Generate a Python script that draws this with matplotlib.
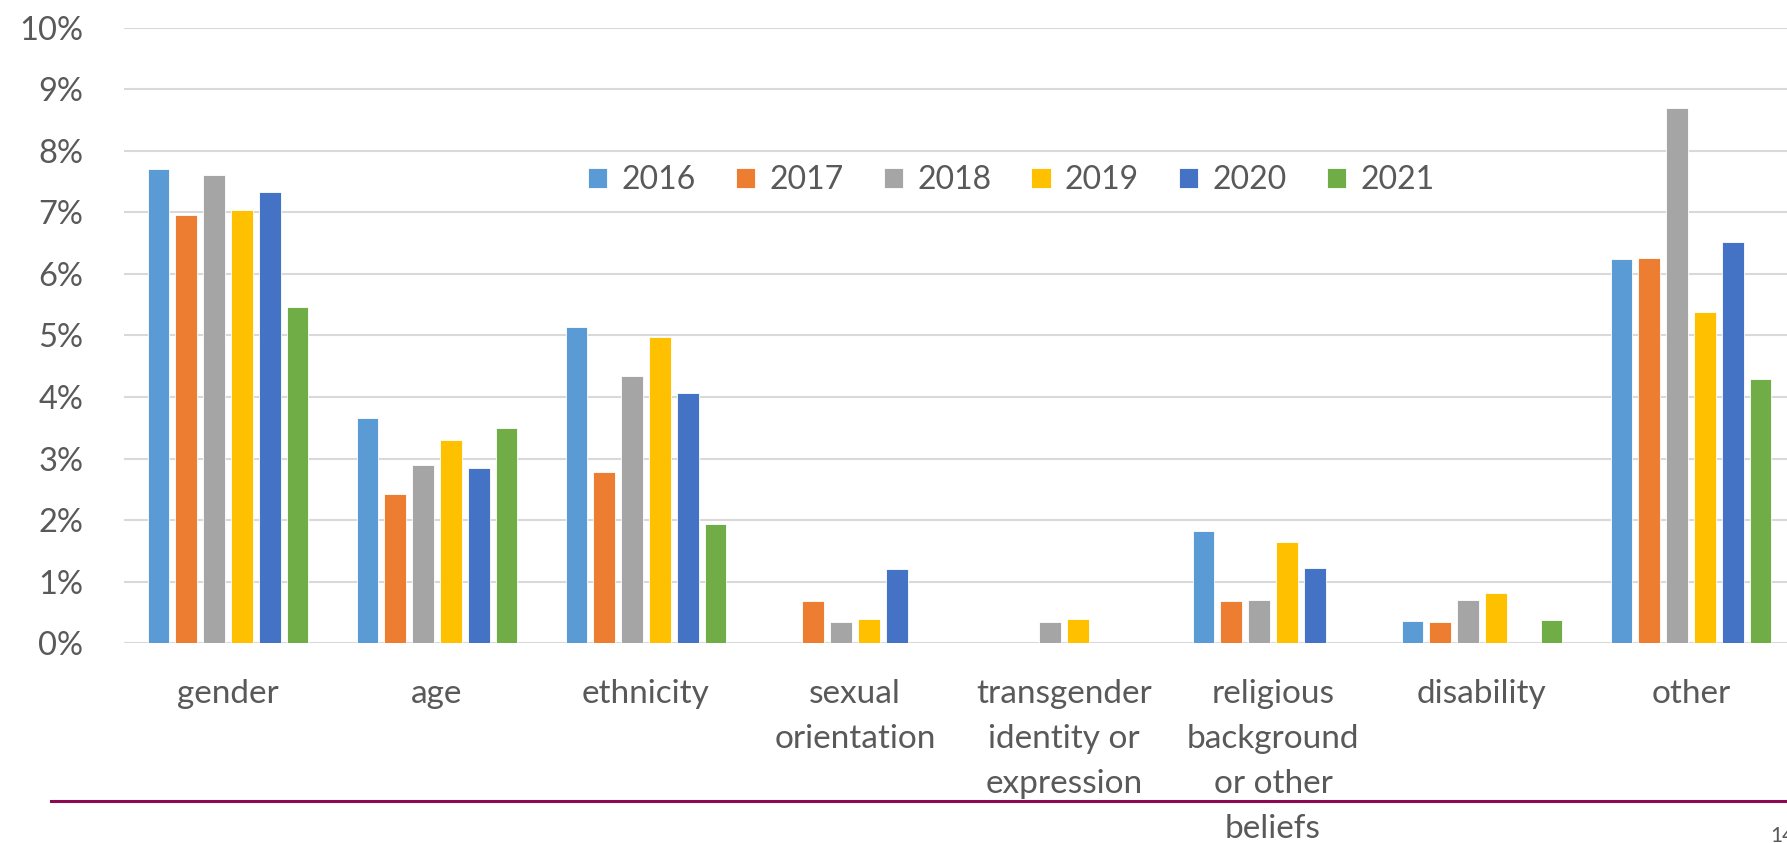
import numpy as np
import matplotlib.pyplot as plt
from matplotlib.ticker import FuncFormatter

# data (percent)
categories = ["gender", "age", "ethnicity", "sexual\norientation",
              "transgender\nidentity or\nexpression",
              "religious\nbackground\nor other\nbeliefs",
              "disability", "other"]
years = ["2016", "2017", "2018", "2019", "2020", "2021"]

v2016 = [7.71, 3.66, 5.14, 0.0, 0.0, 1.83, 0.36, 6.24]
v2017 = [6.96, 2.42, 2.78, 0.68, 0.0, 0.69, 0.34, 6.26]
v2018 = [7.60, 2.89, 4.34, 0.35, 0.35, 0.71, 0.71, 8.69]
v2019 = [7.04, 3.30, 4.97, 0.40, 0.40, 1.65, 0.82, 5.38]
v2020 = [7.33, 2.84, 4.07, 1.21, 0.0, 1.22, 0.0, 6.52]
v2021 = [5.46, 3.50, 1.94, 0.0, 0.0, 0.0, 0.38, 4.29]
series = [v2016, v2017, v2018, v2019, v2020, v2021]

colors = ["#5B9BD5", "#ED7D31", "#A5A5A5", "#FFC000", "#4472C4", "#70AD47"]
text_col = "#595959"

plt.rcParams['font.family'] = ['Lato', 'DejaVu Sans']

W, H = 1787, 843
fig = plt.figure(figsize=(W / 100, H / 100), dpi=100)

y0, y10 = 643.3, 27.5
left = 123.5
ax = fig.add_axes([left / W, (H - y0) / H, 1672 / W, (y0 - y10) / H])

x = np.arange(len(categories))
pitch = 0.133
width = 0.104
for j, vals in enumerate(series):
    ax.bar(x + (j - 2.5) * pitch, vals, width, color=colors[j],
           edgecolor="white", linewidth=0.6, label=years[j], zorder=3)

ax.set_xlim(-0.5, len(categories) - 0.5)
ax.set_ylim(0, 10)
ax.set_yticks(np.arange(0, 11, 1))
ax.yaxis.set_major_formatter(FuncFormatter(lambda v, p: f"{int(v)}%"))
ax.grid(axis="y", color="#D9D9D9", linewidth=1.5, zorder=0)
for s in ax.spines.values():
    s.set_visible(False)

ax.set_xticks(x)
ax.set_xticklabels(categories, fontsize=24, color=text_col, linespacing=1.62,
                   va="top")
ax.tick_params(axis="x", length=0, pad=26)
ax.tick_params(axis="y", length=0, pad=29, labelsize=23.5, labelcolor=text_col)

leg = ax.legend(ncol=6, loc="center", bbox_to_anchor=(0.531, 0.752),
                frameon=False, fontsize=23, handlelength=0.6, handleheight=0.6,
                handletextpad=0.45, columnspacing=1.25)
for t in leg.get_texts():
    t.set_color(text_col)

# slide footer line and page number
fig.add_artist(plt.Line2D([51 / W, 1.0], [(H - 801) / H] * 2,
                          color="#8B0A50", linewidth=2.2))
fig.text(1770 / W, (H - 826) / H, "14", fontsize=15, color=text_col,
         ha="left", va="top")

fig.savefig("out.png", dpi=100)
